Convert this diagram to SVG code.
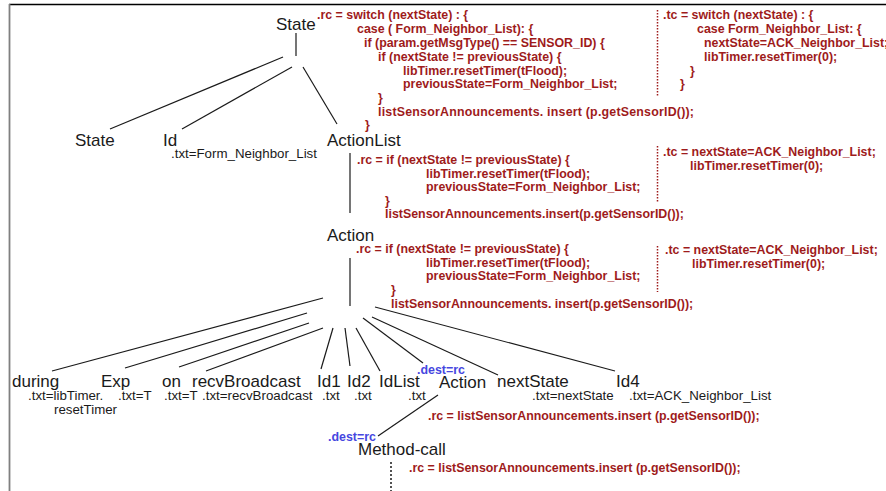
<svg xmlns="http://www.w3.org/2000/svg" width="886" height="491" viewBox="0 0 886 491">
<style>
.lbl{font-family:"Liberation Sans",Arial,sans-serif;font-size:17px;fill:#1a1a1a}
.txt{font-family:"Liberation Sans",Arial,sans-serif;font-size:13.3px;fill:#1a1a1a}
.code{font-family:"Liberation Sans",Arial,sans-serif;font-size:12.4px;font-weight:bold;fill:#9e1b1b}
.dest{font-family:"Liberation Sans",Arial,sans-serif;font-size:12.4px;font-weight:bold;fill:#4646e0}
.edge{stroke:#1a1a1a;stroke-width:1.2;fill:none}
.rdot{stroke:#9e1b1b;stroke-width:1.5;stroke-dasharray:1.5 1.5;fill:none}
.kdot{stroke:#1a1a1a;stroke-width:1.5;stroke-dasharray:2 2;fill:none}
</style>
<rect width="886" height="491" fill="#ffffff"/>
<g id="frame">
<line x1="9" y1="4.5" x2="886" y2="4.5" stroke="#000" stroke-width="1.5"/>
<line x1="9.5" y1="4" x2="9.5" y2="491" stroke="#808080" stroke-width="1.8"/>
</g>
<g id="connectors">
<line class="edge" x1="296" y1="33" x2="296" y2="56"/>
<line class="edge" x1="283" y1="57" x2="110" y2="129"/>
<line class="edge" x1="292" y1="67" x2="182" y2="129"/>
<line class="edge" x1="303" y1="67" x2="337" y2="124"/>
<line class="edge" x1="350" y1="153" x2="350" y2="213"/>
<line class="edge" x1="350" y1="258" x2="350" y2="306"/>
<line class="edge" x1="323" y1="298" x2="52" y2="371"/>
<line class="edge" x1="307" y1="313" x2="125" y2="368"/>
<line class="edge" x1="309" y1="323" x2="179" y2="367"/>
<line class="edge" x1="323" y1="328" x2="206" y2="371"/>
<line class="edge" x1="333" y1="328" x2="321" y2="369"/>
<line class="edge" x1="345" y1="328" x2="350" y2="366"/>
<line class="edge" x1="356" y1="328" x2="380" y2="371"/>
<line class="edge" x1="363" y1="318" x2="423" y2="363"/>
<line class="edge" x1="372" y1="317" x2="498" y2="375"/>
<line class="edge" x1="375" y1="307" x2="615" y2="371"/>
<line class="edge" x1="438" y1="395" x2="378" y2="436"/>
<line class="kdot" x1="391" y1="462" x2="391" y2="491"/>
</g>
<g id="State">
<text class="lbl" x="276" y="30">State</text>
<text class="code" x="317" y="19">.rc = switch (nextState) : {</text>
<text class="code" x="357" y="33">case ( Form_Neighbor_List): {</text>
<text class="code" x="364" y="47">if (param.getMsgType() == SENSOR_ID) {</text>
<text class="code" x="378" y="61">if (nextState != previousState) {</text>
<text class="code" x="403" y="74.5">libTimer.resetTimer(tFlood);</text>
<text class="code" x="403" y="88">previousState=Form_Neighbor_List;</text>
<text class="code" x="378" y="102">}</text>
<text class="code" x="378" y="116" textLength="316">listSensorAnnouncements. insert (p.getSensorID());</text>
<text class="code" x="365" y="129">}</text>
<line class="rdot" x1="657.5" y1="10" x2="657.5" y2="97"/>
<text class="code" x="663" y="19">.tc = switch (nextState) : {</text>
<text class="code" x="697" y="33">case Form_Neighbor_List: {</text>
<text class="code" x="704" y="47">nextState=ACK_Neighbor_List;</text>
<text class="code" x="704" y="61">libTimer.resetTimer(0);</text>
<text class="code" x="690" y="74.5">}</text>
<text class="code" x="680" y="88">}</text>
</g>
<g id="State2">
<text class="lbl" x="75" y="146">State</text>
</g>
<g id="Id">
<text class="lbl" x="163" y="146">Id</text>
<text class="txt" x="171" y="158">.txt=Form_Neighbor_List</text>
</g>
<g id="ActionList">
<text class="lbl" x="327" y="146">ActionList</text>
<text class="code" x="357" y="164">.rc = if (nextState != previousState) {</text>
<text class="code" x="426" y="177.5">libTimer.resetTimer(tFlood);</text>
<text class="code" x="426" y="191">previousState=Form_Neighbor_List;</text>
<text class="code" x="385" y="204.5">}</text>
<text class="code" x="385" y="218">listSensorAnnouncements.insert(p.getSensorID());</text>
<line class="rdot" x1="657.5" y1="146" x2="657.5" y2="202"/>
<text class="code" x="663" y="156">.tc = nextState=ACK_Neighbor_List;</text>
<text class="code" x="690" y="169.5">libTimer.resetTimer(0);</text>
</g>
<g id="Action">
<text class="lbl" x="327" y="241">Action</text>
<text class="code" x="356" y="252.5">.rc = if (nextState != previousState) {</text>
<text class="code" x="426" y="266.5">libTimer.resetTimer(tFlood);</text>
<text class="code" x="426" y="280">previousState=Form_Neighbor_List;</text>
<text class="code" x="391" y="293.5">}</text>
<text class="code" x="391" y="307.5">listSensorAnnouncements. insert(p.getSensorID());</text>
<line class="rdot" x1="657.5" y1="246" x2="657.5" y2="292"/>
<text class="code" x="665" y="254">.tc = nextState=ACK_Neighbor_List;</text>
<text class="code" x="692" y="267.5">libTimer.resetTimer(0);</text>
</g>
<g id="during">
<text class="lbl" x="12" y="387">during</text>
<text class="txt" x="28" y="400">.txt=libTimer.</text>
<text class="txt" x="54" y="414">resetTimer</text>
</g>
<g id="Exp">
<text class="lbl" x="101" y="387">Exp</text>
<text class="txt" x="118" y="400">.txt=T</text>
</g>
<g id="on">
<text class="lbl" x="162" y="387">on</text>
<text class="txt" x="164" y="400">.txt=T</text>
</g>
<g id="recvBroadcast">
<text class="lbl" x="192" y="387">recvBroadcast</text>
<text class="txt" x="202" y="400">.txt=recvBroadcast</text>
</g>
<g id="Id1">
<text class="lbl" x="317" y="387">Id1</text>
<text class="txt" x="322" y="400">.txt</text>
</g>
<g id="Id2">
<text class="lbl" x="347" y="387">Id2</text>
<text class="txt" x="354" y="400">.txt</text>
</g>
<g id="IdList">
<text class="lbl" x="379" y="387">IdList</text>
<text class="txt" x="408" y="400">.txt</text>
</g>
<g id="Action2">
<text class="dest" x="417" y="374">.dest=rc</text>
<text class="lbl" x="439" y="387.5">Action</text>
<text class="code" x="428" y="420">.rc = listSensorAnnouncements.insert (p.getSensorID());</text>
</g>
<g id="nextState">
<text class="lbl" x="497" y="387">nextState</text>
<text class="txt" x="532" y="399.5">.txt=nextState</text>
</g>
<g id="Id4">
<text class="lbl" x="616" y="387">Id4</text>
<text class="txt" x="629" y="399.5">.txt=ACK_Neighbor_List</text>
</g>
<g id="MethodCall">
<text class="dest" x="328" y="441">.dest=rc</text>
<text class="lbl" x="358" y="455">Method-call</text>
<text class="code" x="409" y="472">.rc = listSensorAnnouncements.insert (p.getSensorID());</text>
</g>
</svg>
